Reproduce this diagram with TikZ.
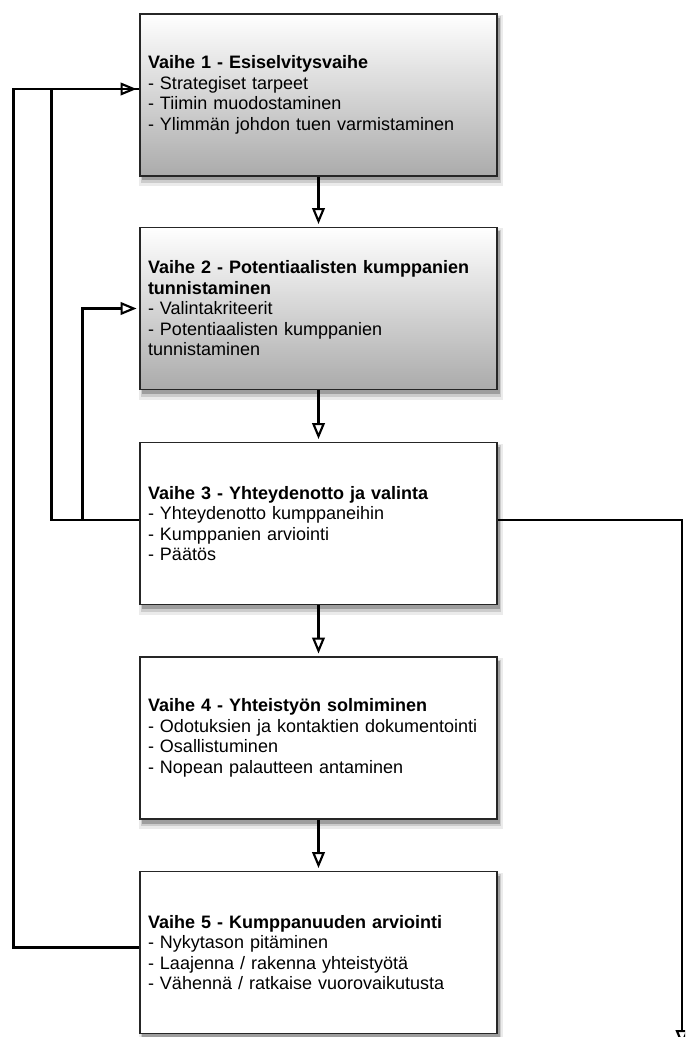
\documentclass[tikz,border=0pt]{standalone}
\usepackage{fontspec}
\setmainfont{Liberation Sans}
\usepackage{tikz}
\usetikzlibrary{arrows.meta}

\begin{document}
\begin{tikzpicture}[
  x=0.75pt, y=-0.75pt,
  every node/.style={draw=black!85, line width=1.2pt, align=left, text width=255.75pt, inner xsep=6pt,
    minimum width=267.75pt, minimum height=121.5pt,
    font=\fontsize{13.5pt}{15.4pt}\selectfont},
  phase/.style={fill=white},
  early/.style={top color=white, bottom color=black!33},
  flow/.style={line width=2pt},
  >={Triangle[open, length=12pt, width=9.5pt, line width=1.6pt]}
]
\clip (0,0) rectangle (685,1037);

% soft shadows behind the boxes
\foreach \cy in {95,308.5,523.5,738,952.5}{
  \fill[black!8]  (139,\cy-80) rectangle (503,\cy+91);
  \fill[black!20] (140.5,\cy-78.5) rectangle (501,\cy+88);
  \fill[black!38] (142,\cy-77) rectangle (499.5,\cy+85.5);
}

\node[early] (esiselvitys) at (318.5,95)  {\textbf{Vaihe 1 - Esiselvitysvaihe}\\- Strategiset tarpeet\\- Tiimin muodostaminen\\- Ylimmän johdon tuen varmistaminen};
\node[early] (tunnistus)   at (318.5,308.5) {\textbf{Vaihe 2 - Potentiaalisten kumppanien}\\\textbf{tunnistaminen}\\- Valintakriteerit\\- Potentiaalisten kumppanien\\tunnistaminen};
\node[phase] (valinta)     at (318.5,523.5) {\textbf{Vaihe 3 - Yhteydenotto ja valinta}\\- Yhteydenotto kumppaneihin\\- Kumppanien arviointi\\- Päätös};
\node[phase] (solmiminen)  at (318.5,738)   {\textbf{Vaihe 4 - Yhteistyön solmiminen}\\- Odotuksien ja kontaktien dokumentointi\\- Osallistuminen\\- Nopean palautteen antaminen};
\node[phase] (arviointi)   at (318.5,952.5) {\textbf{Vaihe 5 - Kumppanuuden arviointi}\\- Nykytason pitäminen\\- Laajenna / rakenna yhteistyötä\\- Vähennä / ratkaise vuorovaikutusta};

\coordinate (loppu) at (682,1046);

\draw[flow,->,shorten >=2pt] (esiselvitys) -- (tunnistus);
\draw[flow,->,shorten >=2pt] (tunnistus) -- (valinta);
\draw[flow,->,shorten >=2pt] (valinta) -- (solmiminen);
\draw[flow,->,shorten >=2pt] (solmiminen) -- (arviointi);

\draw[flow,->,shorten >=2pt] ([yshift=4pt]arviointi.west) -- ++(-126,0) |- ([yshift=4.5pt]esiselvitys.west);
\draw[flow] ([yshift=2.6pt]valinta.west) -- ++(-88,0) |- ([yshift=4.5pt]esiselvitys.west);
\draw[flow,->,shorten >=2pt] ([yshift=2.6pt]valinta.west) ++(-57,0) |- (tunnistus.west);
\draw[flow,->] ([yshift=2.6pt]valinta.east) -| (loppu);
\end{tikzpicture}
\end{document}
